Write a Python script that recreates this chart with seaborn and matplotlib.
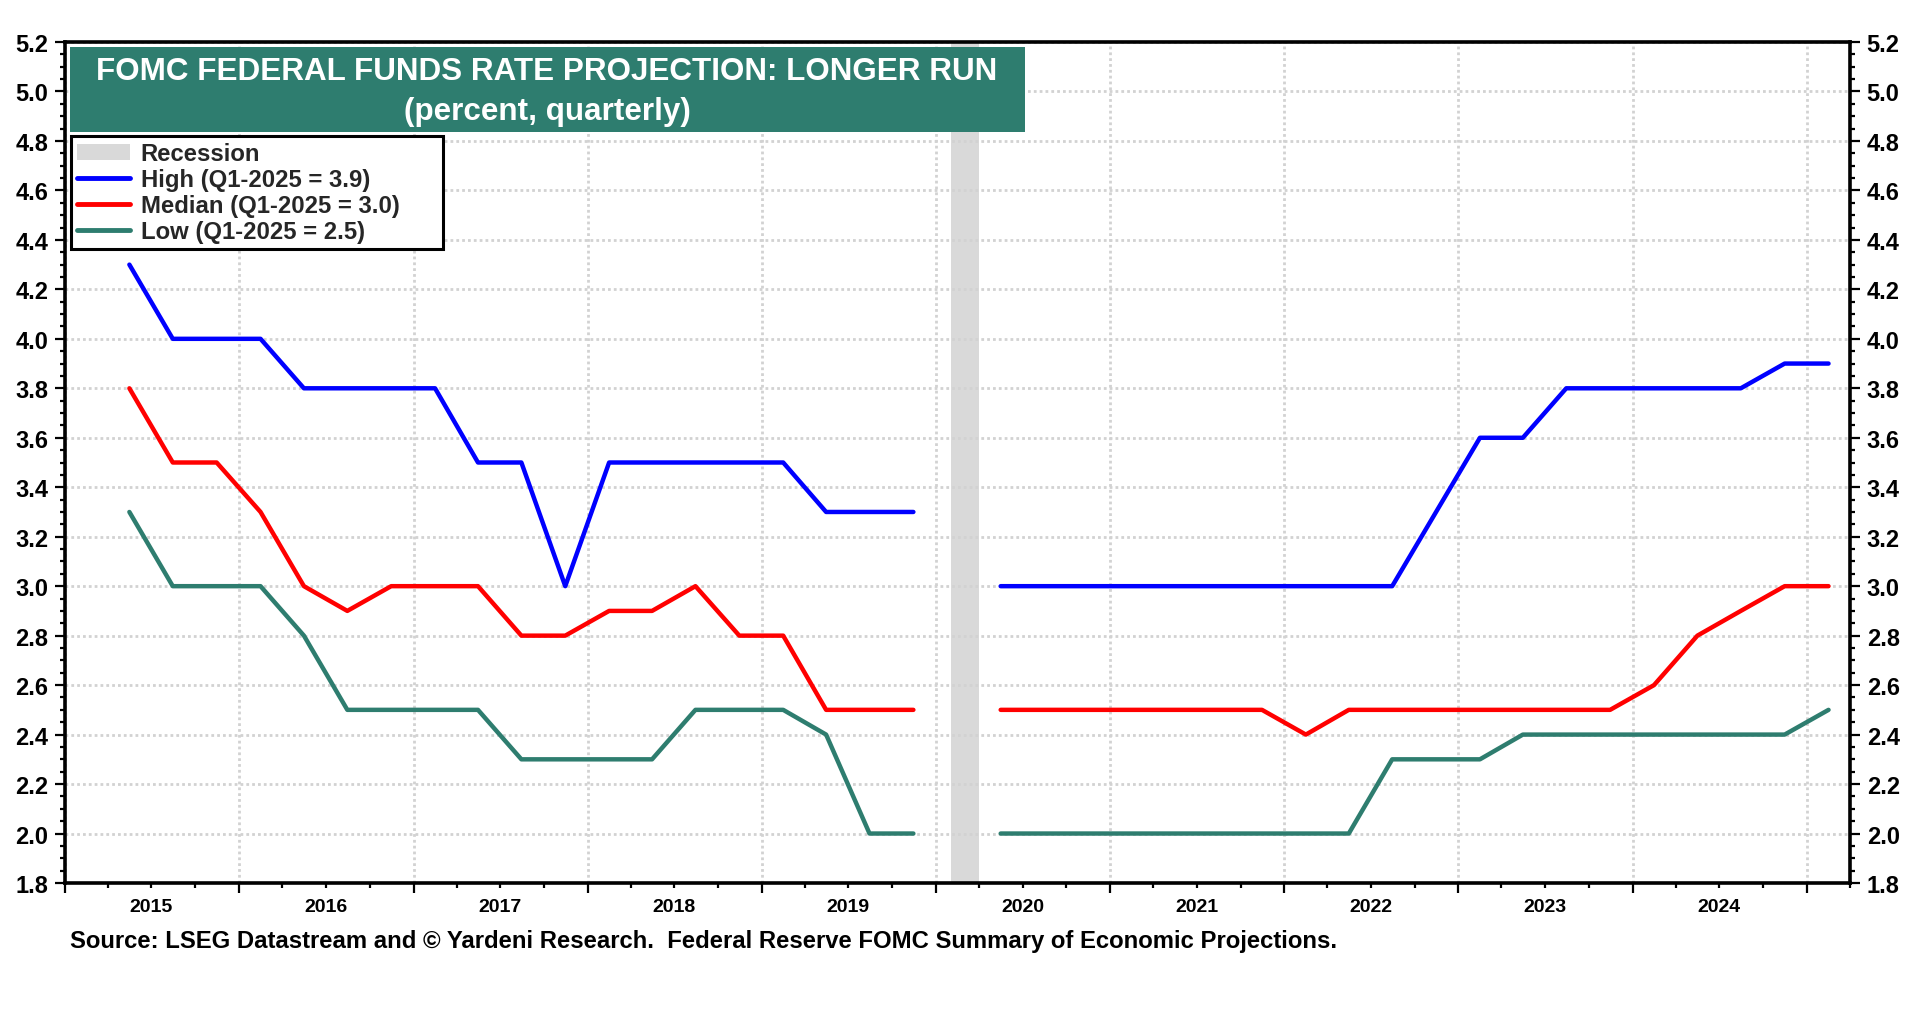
import numpy as np
import pandas as pd
import matplotlib
matplotlib.use("Agg")
import matplotlib.pyplot as plt
import matplotlib.dates as mdates
from matplotlib.ticker import MultipleLocator, FormatStrFormatter, NullFormatter
from matplotlib.patches import Rectangle, Patch
from matplotlib.lines import Line2D
import seaborn as sns

# ---------------- data ----------------
quarters_a = ["2015Q2", "2015Q3", "2015Q4",
              "2016Q1", "2016Q2", "2016Q3", "2016Q4",
              "2017Q1", "2017Q2", "2017Q3", "2017Q4",
              "2018Q1", "2018Q2", "2018Q3", "2018Q4",
              "2019Q1", "2019Q2", "2019Q3", "2019Q4"]
quarters_b = ["2020Q2", "2020Q3", "2020Q4",
              "2021Q1", "2021Q2", "2021Q3", "2021Q4",
              "2022Q1", "2022Q2", "2022Q3", "2022Q4",
              "2023Q1", "2023Q2", "2023Q3", "2023Q4",
              "2024Q1", "2024Q2", "2024Q3", "2024Q4",
              "2025Q1"]

high_a = [4.3, 4.0, 4.0, 4.0, 3.8, 3.8, 3.8, 3.8, 3.5, 3.5, 3.0,
          3.5, 3.5, 3.5, 3.5, 3.5, 3.3, 3.3, 3.3]
median_a = [3.8, 3.5, 3.5, 3.3, 3.0, 2.9, 3.0, 3.0, 3.0, 2.8, 2.8,
            2.9, 2.9, 3.0, 2.8, 2.8, 2.5, 2.5, 2.5]
low_a = [3.3, 3.0, 3.0, 3.0, 2.8, 2.5, 2.5, 2.5, 2.5, 2.3, 2.3,
         2.3, 2.3, 2.5, 2.5, 2.5, 2.4, 2.0, 2.0]

high_b = [3.0, 3.0, 3.0, 3.0, 3.0, 3.0, 3.0, 3.0, 3.0, 3.0, 3.3,
          3.6, 3.6, 3.8, 3.8, 3.8, 3.8, 3.8, 3.9, 3.9]
median_b = [2.5, 2.5, 2.5, 2.5, 2.5, 2.5, 2.5, 2.4, 2.5, 2.5, 2.5,
            2.5, 2.5, 2.5, 2.5, 2.6, 2.8, 2.9, 3.0, 3.0]
low_b = [2.0, 2.0, 2.0, 2.0, 2.0, 2.0, 2.0, 2.0, 2.0, 2.3, 2.3,
         2.3, 2.4, 2.4, 2.4, 2.4, 2.4, 2.4, 2.4, 2.5]

series_names = ["High (Q1-2025 = 3.9)", "Median (Q1-2025 = 3.0)", "Low (Q1-2025 = 2.5)"]
series_colors = ["#0000FF", "#FF0000", "#2E7D6F"]
recession_label = "Recession"
recession_start = "2020-02-01"
recession_end = "2020-04-01"
year_labels = [2015, 2016, 2017, 2018, 2019, 2020, 2021, 2022, 2023, 2024]
title_line1 = "FOMC FEDERAL FUNDS RATE PROJECTION: LONGER RUN"
title_line2 = "(percent, quarterly)"
source_text = ("Source: LSEG Datastream and \u00a9 Yardeni Research.  "
               "Federal Reserve FOMC Summary of Economic Projections.")

TEAL = "#2E7D6F"
REC_GRAY = "#D9D9D9"

# ---------------- build long table ----------------
def mid_quarter(qs):
    return pd.PeriodIndex(qs, freq="Q").to_timestamp(how="start") + pd.Timedelta(days=45)

rows = []
for seg, qs, vals in [("a", quarters_a, [high_a, median_a, low_a]),
                      ("b", quarters_b, [high_b, median_b, low_b])]:
    d = mid_quarter(qs)
    for name, v in zip(series_names, vals):
        rows.append(pd.DataFrame({"date": d, "value": v, "series": name, "segment": seg}))
df = pd.concat(rows, ignore_index=True)

# ---------------- style ----------------
sns.set_theme(style="white")
plt.rcParams["font.family"] = ["Liberation Sans", "DejaVu Sans"]
plt.rcParams["font.weight"] = "bold"

fig = plt.figure(figsize=(19.2, 10.2), dpi=100)
ax = fig.add_axes([65 / 1920, 136 / 1020, 1785 / 1920, 841 / 1020])

ax.axvspan(pd.Timestamp(recession_start), pd.Timestamp(recession_end),
           color=REC_GRAY, lw=0, zorder=0.2)

sns.lineplot(data=df, x="date", y="value", hue="series", units="segment",
             estimator=None, palette=dict(zip(series_names, series_colors)),
             hue_order=series_names, lw=3.2, legend=False, ax=ax)

ax.set_xlim(pd.Timestamp("2015-01-01"), pd.Timestamp("2025-04-01"))
ax.set_ylim(1.8, 5.2)
ax.set_xlabel("")
ax.set_ylabel("")

# grid
ax.set_axisbelow(True)
ax.grid(which="major", axis="both", color="#D2D2D2", linestyle=(0, (1, 1.1)), lw=2.0)

# spines
for s in ax.spines.values():
    s.set_visible(True)
    s.set_color("black")
    s.set_linewidth(2.6)

# y axis
ax.yaxis.set_major_locator(MultipleLocator(0.2))
ax.yaxis.set_minor_locator(MultipleLocator(0.05))
ax.yaxis.set_major_formatter(FormatStrFormatter("%.1f"))
ax.tick_params(axis="y", which="both", direction="out", left=True, right=True,
               labelleft=True, labelright=True, colors="black", width=1.6)
ax.tick_params(axis="y", which="major", length=7, labelsize=17, pad=5)
ax.tick_params(axis="y", which="minor", length=3.5)

# x axis
ax.xaxis.set_major_locator(mdates.YearLocator(1))
ax.xaxis.set_minor_locator(mdates.MonthLocator(bymonth=[1, 4, 7, 10]))
ax.xaxis.set_major_formatter(NullFormatter())
ax.tick_params(axis="x", which="both", direction="out", bottom=True, top=False,
               colors="black", width=1.6)
ax.tick_params(axis="x", which="major", length=7)
ax.tick_params(axis="x", which="minor", length=3.5)

sec = ax.secondary_xaxis("bottom")
sec.set_xticks(mdates.date2num([pd.Timestamp(f"{y}-07-01") for y in year_labels]))
sec.set_xticklabels([str(y) for y in year_labels])
sec.tick_params(length=0, labelsize=14, pad=10.5, colors="black")
sec.spines["bottom"].set_visible(False)
for lbl in sec.get_xticklabels():
    lbl.set_fontweight("bold")
for lbl in ax.get_yticklabels():
    lbl.set_fontweight("bold")

# title box
ax.add_patch(Rectangle((0.0028, 0.893), 0.535, 0.101, transform=ax.transAxes,
                       facecolor=TEAL, edgecolor="none", zorder=5))
ax.text(0.270, 0.965, title_line1, transform=ax.transAxes, ha="center", va="center",
        color="white", fontsize=22.6, fontweight="bold", zorder=6)
ax.text(0.270, 0.9185, title_line2, transform=ax.transAxes, ha="center", va="center",
        color="white", fontsize=22.6, fontweight="bold", zorder=6)

# legend
handles = [Patch(facecolor=REC_GRAY, edgecolor="none")] + \
          [Line2D([0], [0], color=c, lw=3.5) for c in series_colors]
labels = [recession_label] + series_names
leg = ax.legend(handles, labels, loc="upper left",
                bbox_to_anchor=(0.0034, 0.7574, 0.2084, 0.1306), mode="expand",
                bbox_transform=ax.transAxes, borderaxespad=0, frameon=True,
                fancybox=False, edgecolor="black", framealpha=1,
                prop={"size": 17.2, "weight": "bold"}, handlelength=2.2,
                handletextpad=0.45, labelspacing=0.12, borderpad=0.26)
leg.get_frame().set_linewidth(2.2)
leg.set_zorder(6)

# source
fig.text(70 / 1920, 1 - 941.5 / 1020, source_text, ha="left", va="center",
         fontsize=17.2, fontweight="bold", color="black")

fig.savefig("out.png", dpi=100, facecolor="white")
